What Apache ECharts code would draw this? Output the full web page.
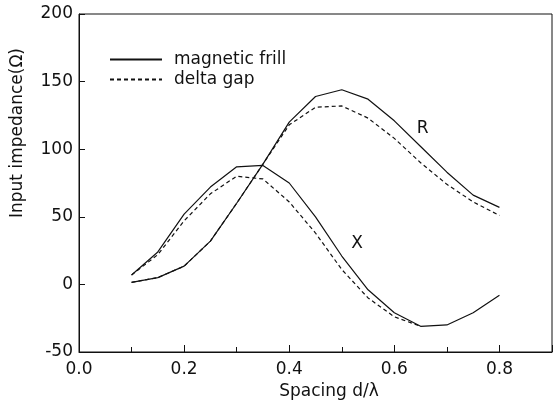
<!DOCTYPE html>
<html>
<head>
<meta charset="utf-8">
<script src="https://cdn.jsdelivr.net/npm/echarts@6/dist/echarts.min.js"></script>
<style>
  html, body { margin: 0; padding: 0; background: #fff; }
  #chart { width: 554px; height: 405px; }
</style>
</head>
<body>
<div id="chart"></div>
<script>
// spacing d/lambda
var spacing = [0.1, 0.15, 0.2, 0.25, 0.3, 0.35, 0.4, 0.45, 0.5, 0.55, 0.6, 0.65, 0.7, 0.75, 0.8];

// magnetic frill (solid)
var rFrill = [1.5, 5, 13.5, 32, 60, 89, 120, 139, 144, 137, 121, 102, 83, 66, 57];
var xFrill = [7, 24, 52, 72, 87, 88, 75, 50, 21, -4, -21, -31, -30, -21, -8];

// delta gap (dashed)
var rGap = [1.5, 5, 13.5, 32, 60, 89, 118, 131, 132, 123, 108, 90, 74, 61, 51];
var xGap = [7, 22, 47, 67, 80, 78, 61, 38, 11, -10, -24, -31];

var curveLabels = [['R', 0.654, 115], ['X', 0.529, 30]];

var yTicks = [-50, 0, 50, 100, 150, 200];

var FONT = 'DejaVu Sans';

function pairs(xs, ys) {
    var out = [];
    for (var i = 0; i < ys.length; i++) {
        out.push([xs[i], ys[i]]);
    }
    return out;
}

var chart = echarts.init(document.getElementById('chart'));

var option = {
    animation: false,
    backgroundColor: '#fff',
    textStyle: { fontFamily: FONT, color: '#111' },
    grid: {
        left: 79, right: 2, top: 14, bottom: 53,
        show: true, borderColor: '#111', borderWidth: 1
    },
    legend: {
        orient: 'vertical',
        left: 104,
        top: 46,
        itemWidth: 52,
        itemHeight: 16,
        itemGap: 3,
        data: ['magnetic frill', 'delta gap'],
        itemStyle: { opacity: 0 },
        textStyle: { fontFamily: FONT, fontSize: 17, color: '#111', padding: [0, 0, 0, 7], lineHeight: 16 }
    },
    xAxis: {
        type: 'value',
        min: 0,
        max: 0.9,
        interval: 0.2,
        axisLine: { show: true, onZero: false, lineStyle: { color: '#111', width: 1 } },
        axisTick: { show: true, inside: true, length: 7, lineStyle: { color: '#111' } },
        minorTick: { show: true, splitNumber: 2, length: 5, lineStyle: { color: '#111' } },
        splitLine: { show: false },
        axisLabel: {
            fontFamily: FONT, fontSize: 17, color: '#111', margin: 9,
            showMaxLabel: false,
            formatter: function (v) { return v.toFixed(1); }
        }
    },
    yAxis: {
        type: 'value',
        min: yTicks[0],
        max: yTicks[yTicks.length - 1],
        interval: 50,
        axisLine: { show: true, onZero: false, lineStyle: { color: '#111', width: 1 } },
        axisTick: { show: true, inside: true, length: 6, lineStyle: { color: '#111' } },
        splitLine: { show: false },
        axisLabel: { fontFamily: FONT, fontSize: 17, color: '#111', margin: 6 }
    },
    graphic: [
        {
            type: 'text',
            x: 18, y: 133,
            rotation: Math.PI / 2,
            style: {
                text: 'Input impedance(Ω)',
                font: '17px ' + FONT,
                fill: '#111',
                align: 'center',
                verticalAlign: 'middle'
            }
        },
        {
            type: 'text',
            x: 329, y: 392,
            style: {
                text: 'Spacing d/λ',
                font: '17px ' + FONT,
                fill: '#111',
                align: 'center',
                verticalAlign: 'middle'
            }
        }
    ],
    series: [
        {
            name: 'magnetic frill', type: 'line', symbol: 'none',
            lineStyle: { color: '#111', width: 1.2, type: 'solid' },
            itemStyle: { color: '#111' },
            data: pairs(spacing, rFrill)
        },
        {
            name: 'magnetic frill', type: 'line', symbol: 'none',
            lineStyle: { color: '#111', width: 1.2, type: 'solid' },
            itemStyle: { color: '#111' },
            data: pairs(spacing, xFrill)
        },
        {
            name: 'delta gap', type: 'line', symbol: 'none',
            lineStyle: { color: '#111', width: 1.2, type: [4, 3] },
            itemStyle: { color: '#111' },
            data: pairs(spacing, rGap)
        },
        {
            name: 'delta gap', type: 'line', symbol: 'none',
            lineStyle: { color: '#111', width: 1.2, type: [4, 3] },
            itemStyle: { color: '#111' },
            data: pairs(spacing, xGap)
        },
        {
            type: 'scatter', symbolSize: 1, silent: true,
            itemStyle: { color: 'rgba(0,0,0,0)' },
            data: curveLabels.map(function (c) { return { name: c[0], value: [c[1], c[2]] }; }),
            label: {
                show: true, position: 'inside', formatter: '{b}',
                fontFamily: FONT, fontSize: 17, color: '#111',
                textBorderWidth: 0, opacity: 1
            }
        }
    ]
};

chart.setOption(option);
</script>
</body>
</html>
